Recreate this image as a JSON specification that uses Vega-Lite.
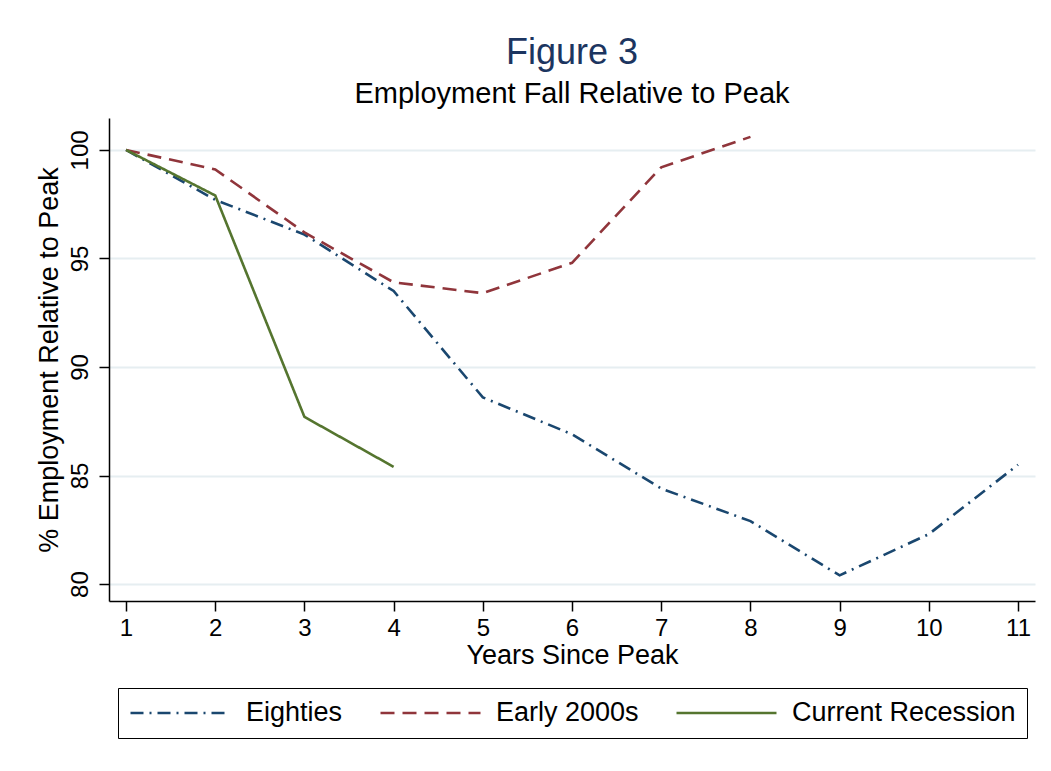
{
  "$schema": "https://vega.github.io/schema/vega-lite/v6.json",
  "width": 926,
  "height": 483,
  "autosize": {"type": "none"},
  "padding": {"left": 109, "top": 118, "right": 16, "bottom": 170},
  "background": "white",
  "title": {
    "text": "Figure 3",
    "subtitle": "Employment Fall Relative to Peak",
    "anchor": "middle",
    "font": "Liberation Sans",
    "fontSize": 36,
    "fontWeight": "normal",
    "color": "#1c3560",
    "subtitleFont": "Liberation Sans",
    "subtitleFontSize": 29,
    "subtitleColor": "black",
    "subtitlePadding": 8,
    "offset": 8
  },
  "data": {
    "values": [
      {"series": "Eighties", "year": 1, "value": 100},
      {"series": "Eighties", "year": 2, "value": 97.7},
      {"series": "Eighties", "year": 3, "value": 96.1},
      {"series": "Eighties", "year": 4, "value": 93.5},
      {"series": "Eighties", "year": 5, "value": 88.6},
      {"series": "Eighties", "year": 6, "value": 86.9},
      {"series": "Eighties", "year": 7, "value": 84.4},
      {"series": "Eighties", "year": 8, "value": 82.9},
      {"series": "Eighties", "year": 9, "value": 80.4},
      {"series": "Eighties", "year": 10, "value": 82.3},
      {"series": "Eighties", "year": 11, "value": 85.5},
      {"series": "Early 2000s", "year": 1, "value": 100},
      {"series": "Early 2000s", "year": 2, "value": 99.1},
      {"series": "Early 2000s", "year": 3, "value": 96.2},
      {"series": "Early 2000s", "year": 4, "value": 93.9},
      {"series": "Early 2000s", "year": 5, "value": 93.4},
      {"series": "Early 2000s", "year": 6, "value": 94.8},
      {"series": "Early 2000s", "year": 7, "value": 99.2},
      {"series": "Early 2000s", "year": 8, "value": 100.6},
      {"series": "Current Recession", "year": 1, "value": 100},
      {"series": "Current Recession", "year": 2, "value": 97.9},
      {"series": "Current Recession", "year": 3, "value": 87.7},
      {"series": "Current Recession", "year": 4, "value": 85.4}
    ]
  },
  "mark": {"type": "line", "strokeWidth": 2.6, "clip": false},
  "encoding": {
    "x": {
      "field": "year",
      "type": "quantitative",
      "scale": {"domain": [0.809, 11.19], "nice": false, "zero": false},
      "axis": {
        "title": "Years Since Peak",
        "values": [1, 2, 3, 4, 5, 6, 7, 8, 9, 10, 11],
        "format": "d",
        "grid": false,
        "labelPadding": 5,
        "titlePadding": 2
      }
    },
    "y": {
      "field": "value",
      "type": "quantitative",
      "scale": {"domain": [79.22, 101.47], "nice": false, "zero": false},
      "axis": {
        "title": "% Employment Relative to Peak",
        "values": [80, 85, 90, 95, 100],
        "format": "d",
        "grid": true,
        "gridColor": "#e6eef1",
        "gridWidth": 2,
        "labelAngle": -90,
        "labelAlign": "center",
        "labelBaseline": "bottom",
        "labelPadding": 7,
        "titlePadding": 5
      }
    },
    "color": {
      "field": "series",
      "type": "nominal",
      "scale": {
        "domain": ["Eighties", "Early 2000s", "Current Recession"],
        "range": ["#1a476f", "#90353b", "#55752f"]
      },
      "legend": {"title": null}
    },
    "strokeDash": {
      "field": "series",
      "type": "nominal",
      "scale": {
        "domain": ["Eighties", "Early 2000s", "Current Recession"],
        "range": [[13, 6, 2, 6], [14, 8], [1, 0]]
      },
      "legend": {"title": null}
    }
  },
  "config": {
    "view": {"stroke": null},
    "axis": {
      "domainColor": "black",
      "domainWidth": 1.5,
      "tickColor": "black",
      "tickWidth": 1.5,
      "tickSize": 10,
      "labelFont": "Liberation Sans",
      "labelFontSize": 24,
      "labelColor": "black",
      "titleFont": "Liberation Sans",
      "titleFontSize": 27,
      "titleFontWeight": "normal",
      "titleColor": "black"
    },
    "legend": {
      "orient": "none",
      "legendX": 9,
      "legendY": 570,
      "direction": "horizontal",
      "strokeColor": "black",
      "fillColor": "white",
      "padding": 11,
      "columnPadding": 36,
      "labelOffset": 14,
      "labelLimit": 400,
      "labelFont": "Liberation Sans",
      "labelFontSize": 27,
      "labelColor": "black",
      "clipHeight": 28,
      "symbolType": "stroke",
      "symbolSize": 10000,
      "symbolStrokeWidth": 2.6
    }
  }
}
